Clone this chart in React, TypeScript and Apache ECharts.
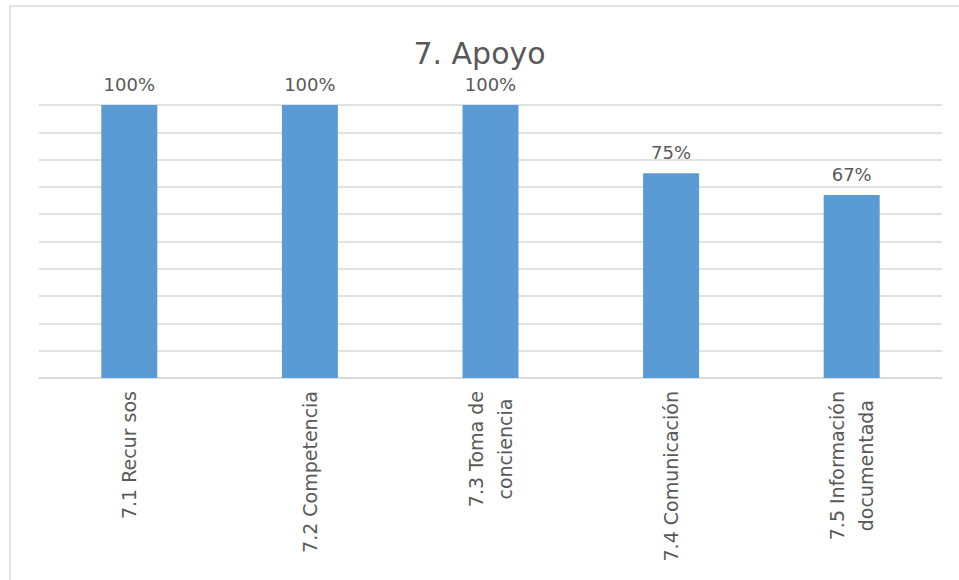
import React, { useEffect, useRef } from "react";
import * as echarts from "echarts";

const titleText = "7. Apoyo";
const categories = [
  "7.1 Recur sos",
  "7.2 Competencia",
  "7.3 Toma de\nconciencia",
  "7.4 Comunicación",
  "7.5 Información\ndocumentada",
];
const values = [1.0, 1.0, 1.0, 0.75, 0.67];

export default function App() {
  const ref = useRef<HTMLDivElement>(null);
  useEffect(() => {
    if (!ref.current) return;
    const chart = echarts.init(ref.current, undefined, { renderer: "svg" });
    const font = "'DejaVu Sans', sans-serif";
    chart.setOption({
      animation: false,
      backgroundColor: "#ffffff",
      title: {
        text: titleText,
        left: "center",
        top: 33,
        textStyle: { fontFamily: font, fontSize: 30, fontWeight: "normal", color: "#595959" },
      },
      graphic: [
        {
          type: "rect",
          shape: { x: 10, y: 6, width: 970, height: 600 },
          style: { fill: "none", stroke: "#d9d9d9", lineWidth: 1.5 },
          silent: true,
        },
      ],
      grid: { left: 39, right: 17, top: 105, bottom: 202, containLabel: false },
      xAxis: {
        type: "category",
        data: categories,
        axisLine: { lineStyle: { color: "#d9d9d9", width: 1.5 } },
        axisTick: { show: false },
        axisLabel: {
          rotate: 90,
          margin: 13,
          fontFamily: font,
          fontSize: 19,
          color: "#595959",
          lineHeight: 29,
          interval: 0,
          formatter: (v: string) =>
            v
              .split("\n")
              .map((s) => `{c|${s}}`)
              .join("\n"),
          rich: {
            c: {
              align: "center",
              fontFamily: font,
              fontSize: 19,
              color: "#595959",
              lineHeight: 29,
            },
          },
        },
      },
      yAxis: {
        type: "value",
        min: 0,
        max: 1,
        interval: 0.1,
        axisLabel: { show: false },
        axisLine: { show: false },
        axisTick: { show: false },
        splitLine: { lineStyle: { color: "#d9d9d9", width: 1.5 } },
      },
      series: [
        {
          type: "bar",
          data: values,
          barWidth: 56,
          itemStyle: { color: "#5B9BD5" },
          label: {
            show: true,
            position: "top",
            distance: 12,
            fontFamily: font,
            fontSize: 18,
            color: "#595959",
            formatter: (p: any) => Math.round(p.value * 100) + "%",
          },
        },
      ],
    });
    return () => chart.dispose();
  }, []);
  return (
    <div
      ref={ref}
      style={{ position: "absolute", left: 0, top: 0, width: 959, height: 580 }}
    />
  );
}
